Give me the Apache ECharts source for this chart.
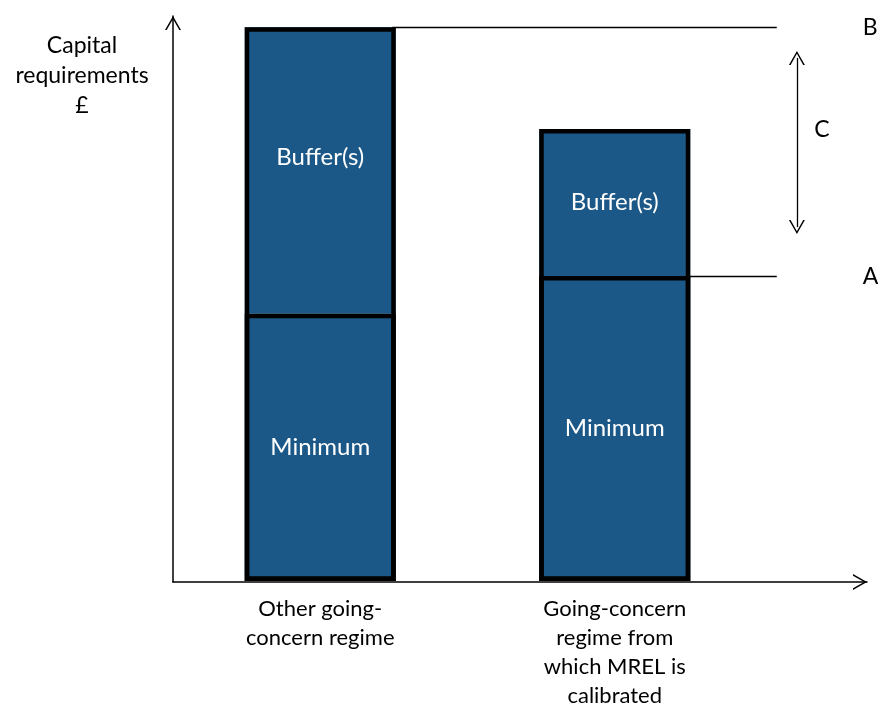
<!DOCTYPE html>
<html>
<head>
<meta charset="utf-8">
<script src="https://cdn.jsdelivr.net/npm/echarts@6/dist/echarts.min.js"></script>
<style>
  html, body { margin: 0; padding: 0; background: #fff; }
  #chart { width: 880px; height: 710px; }
</style>
</head>
<body>
<div id="chart"></div>
<script>
// notional data (y axis 0..100)
const categories = ['Other going-\nconcern regime', 'Going-concern\nregime from\nwhich MREL is\ncalibrated']
const minimumValues = [47.3, 54]
const bufferValues = [50.7, 26]
const levelB = 98 // top of the other regime
const levelA = 54 // minimum of the MREL regime
const arrowC = [92.6, 62.7]

const font = 'Lato'
// open arrow head, pointing up, 16 x 14
const chevron = 'path://M0,14 L8,0 L16,14 L14.3,14 L8,2.9 L1.7,14 Z'
const barColor = '#1b5887'
const totals = minimumValues.map((v, i) => v + bufferValues[i])

const chart = echarts.init(document.getElementById('chart'))

const segment = {
  type: 'bar',
  xAxisIndex: 1,
  yAxisIndex: 1,
  stack: 'req',
  barWidth: 151,
  barGap: '-100%',
  itemStyle: { color: barColor },
  label: { show: true, position: 'inside', color: '#fff', fontSize: 24 }
}

// ECharts draws a bar border inside the bar, so outlines are laid on top
const outline = {
  type: 'bar',
  xAxisIndex: 1,
  yAxisIndex: 1,
  barWidth: 151,
  barGap: '-100%',
  silent: true,
  z: 3,
  itemStyle: { color: 'transparent', borderColor: '#000', borderWidth: 4.5 }
}

const option = {
  animation: false,
  textStyle: { fontFamily: font },
  graphic: [{
    type: 'text',
    x: 82,
    y: 31,
    style: {
      text: 'Capital\nrequirements\n£',
      align: 'center',
      verticalAlign: 'top',
      font: '23px ' + font,
      lineHeight: 30,
      fill: '#000'
    }
  }],
  grid: [
    // frame with the arrowed axes
    { left: 173, top: 16, width: 694, height: 566 },
    // bars
    { left: 173, top: 16, width: 589, height: 566 }
  ],
  xAxis: [{
    gridIndex: 0,
    type: 'value',
    min: 0,
    max: 100,
    axisLine: {
      show: true,
      symbol: ['none', chevron],
      symbolSize: [16, 14],
      symbolOffset: [0, -7],
      lineStyle: { color: '#000', width: 1.5 }
    },
    axisTick: { show: false },
    axisLabel: { show: false },
    splitLine: { show: false }
  }, {
    gridIndex: 1,
    type: 'category',
    data: categories,
    axisLine: { show: false },
    axisTick: { show: false },
    axisLabel: {
      color: '#000',
      fontSize: 22,
      lineHeight: 29,
      margin: 13,
      interval: 0
    }
  }],
  yAxis: [{
    gridIndex: 0,
    type: 'value',
    min: 0,
    max: 100,
    axisLine: {
      show: true,
      symbol: ['none', chevron],
      symbolSize: [16, 14],
      symbolOffset: [0, -7],
      lineStyle: { color: '#000', width: 1.5 }
    },
    axisTick: { show: false },
    axisLabel: { show: false },
    splitLine: { show: false }
  }, {
    gridIndex: 1,
    type: 'value',
    min: 0,
    max: 100,
    show: false
  }],
  series: [
    Object.assign({}, segment, {
      name: 'Minimum',
      label: Object.assign({}, segment.label, { formatter: 'Minimum' }),
      data: minimumValues
    }),
    Object.assign({}, segment, {
      name: 'Buffer(s)',
      label: Object.assign({}, segment.label, { formatter: 'Buffer(s)' }),
      data: bufferValues.map((v, i) => i === 0 ? { value: v, label: { offset: [0, -13] } } : v)
    }),
    Object.assign({}, outline, { data: totals }),
    Object.assign({}, outline, { data: minimumValues }),
    {
      // host for the annotations
      type: 'line',
      xAxisIndex: 0,
      yAxisIndex: 0,
      data: [],
      silent: true,
      markLine: {
        silent: true,
        animation: false,
        symbol: 'none',
        lineStyle: { color: '#000', width: 1.3, type: 'solid' },
        label: { show: true, position: 'end', distance: 86, color: '#000', fontSize: 23 },
        data: [
          [{ coord: [31.6, levelB], label: { formatter: 'B' } }, { coord: [87.0, levelB] }],
          [{ coord: [74.0, levelA], label: { formatter: 'A' } }, { coord: [87.0, levelA] }],
          [
            { coord: [89.9, arrowC[0]], symbol: chevron, symbolSize: [16, 14], label: { show: false } },
            { coord: [89.9, arrowC[1]], symbol: chevron, symbolSize: [16, 14] }
          ]
        ]
      },
      markPoint: {
        silent: true,
        symbol: 'circle',
        symbolSize: 1,
        itemStyle: { color: 'transparent' },
        label: { show: true, color: '#000', fontSize: 23, formatter: 'C', offset: [25, 0] },
        data: [{ coord: [89.9, 80] }]
      }
    }
  ]
}

chart.setOption(option)
</script>
</body>
</html>
